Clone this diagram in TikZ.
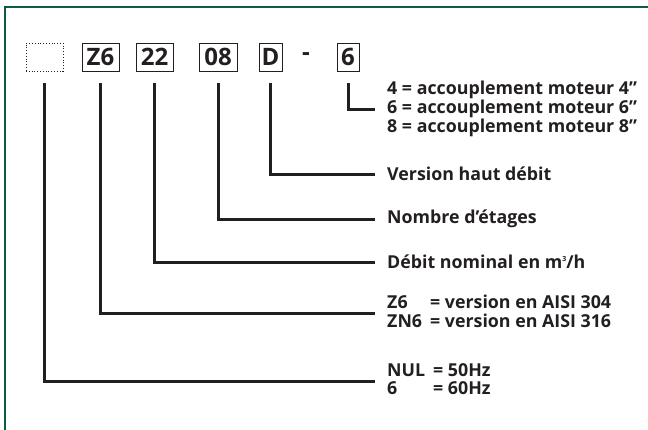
\documentclass[tikz,border=0pt]{standalone}
\usepackage{fontspec}
\setmainfont{Open Sans}
\usetikzlibrary{positioning}
\definecolor{framegreen}{RGB}{12,92,62}
\definecolor{inkgray}{RGB}{35,31,32}

\tikzset{
  code/.style={draw=inkgray, line width=0.8pt, minimum height=28pt, inner sep=0pt,
    font=\fontsize{24}{24}\selectfont\bfseries, text=inkgray},
  legend/.style={anchor=west, inner sep=0pt, align=left, text=inkgray,
    font=\fontsize{17.8}{16.8}\selectfont\bfseries},
  conn/.style={draw=inkgray, line width=3pt, shorten <=12pt, shorten >=12pt}
}

\begin{document}
\begin{tikzpicture}[x=1pt,y=-1pt]
\useasboundingbox (0,0) rectangle (648,429);
% cadre
\draw[framegreen, line width=2.5pt] (5,440) -- (5,7) -- (660,7);

% code
\node[code, dotted, minimum width=37pt] (freq) at (44.5,57) {};
\node[code, minimum width=37pt] (mat) at (100.5,57) {Z6};
\node[code, minimum width=37pt] (debit) at (154.5,57) {22};
\node[code, minimum width=38pt] (etages) at (218,57) {08};
\node[code, minimum width=23pt] (version) at (270.5,57) {D};
\node[code, draw=none] (tiret) at (306,57) {-};
\node[code, minimum width=22pt] (moteur) at (348,57) {6};

% legendes
\node[legend] (lmoteur) at (387,109) {4 = accouplement moteur 4''\\6 = accouplement moteur 6''\\8 = accouplement moteur 8''};
\node[legend] (lversion) at (387,174) {Version haut débit};
\node[legend] (letages) at (387,219) {Nombre d’étages};
\node[legend] (ldebit) at (387,262) {Débit nominal en m\raisebox{0.75ex}{\fontsize{7}{7}\selectfont 3}/h};
\node[legend] (lmat) at (387,313.5) {\begin{tabular}{@{}l@{\hspace{8pt}}l@{}}Z6 & = version en AISI 304\\ZN6 & = version en AISI 316\end{tabular}};
\node[legend] (lfreq) at (387,381.5) {\begin{tabular}{@{}l@{\hspace{8pt}}l@{}}NUL & = 50Hz\\6 & = 60Hz\end{tabular}};

% liaisons
\draw[conn] (moteur.south) |- (lmoteur.west);
\draw[conn] (version.south) |- (lversion.west);
\draw[conn] (etages.south) |- (letages.west);
\draw[conn] (debit.south) |- (ldebit.west);
\draw[conn] (mat.south) |- (lmat.west);
\draw[conn] (freq.south) |- (lfreq.west);
\end{tikzpicture}
\end{document}
